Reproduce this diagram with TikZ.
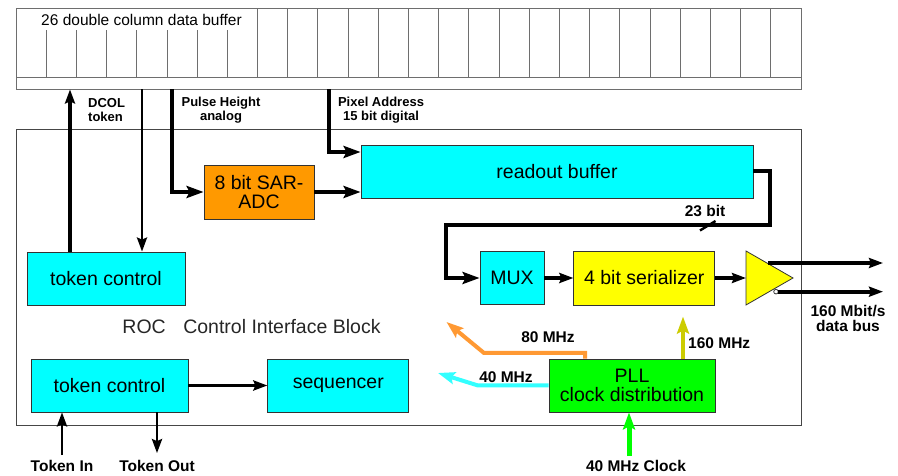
\documentclass[tikz,border=0pt]{standalone}
\usepackage{fontspec}
\setmainfont{Liberation Sans}
\usetikzlibrary{positioning,arrows.meta,calc}
\definecolor{boxLine}{RGB}{51,51,51}
\definecolor{frameLine}{RGB}{70,70,70}
\definecolor{cellLine}{RGB}{110,110,110}
\definecolor{rocCyan}{RGB}{0,255,255}
\definecolor{adcOrange}{RGB}{255,153,0}
\definecolor{serYellow}{RGB}{255,255,0}
\definecolor{pllGreen}{RGB}{0,255,0}
\definecolor{clkOrange}{RGB}{255,153,51}
\definecolor{clkCyan}{RGB}{51,255,255}
\definecolor{clkOlive}{RGB}{204,204,0}
\newcommand\boxfont{\fontsize{19.5}{19.5}\selectfont}
\newcommand\buffont{\fontsize{15.5}{17}\selectfont}
\newcommand\lblfont{\bfseries\fontsize{15.5}{15.5}\selectfont}
\newcommand\toplblfont{\bfseries\fontsize{13}{14.5}\selectfont}
\tikzset{
  blk/.style={rectangle, draw=boxLine, line width=0.8pt, inner sep=0pt,
              align=center, font=\boxfont},
  cyanblk/.style={blk, fill=rocCyan},
  cell/.style={draw=cellLine, line width=0.9pt},
  bus/.style={line width=4pt, -{Stealth[length=17pt,width=12pt,inset=3pt]}},
  sig/.style={line width=3.2pt, -{Stealth[length=14pt,width=10pt,inset=2pt]}},
  clkarr/.style={line width=4pt, -{Stealth[length=17pt,width=12pt,inset=3pt]}},
  lbl/.style={font=\lblfont, align=center, inner sep=0pt},
  toplbl/.style={font=\toplblfont, align=center, inner sep=0pt},
}

\begin{document}
\begin{tikzpicture}[x=1pt, y=1pt]
  \useasboundingbox (0,0) rectangle (898,476);
  % double column buffer
  \node[draw=cellLine, line width=0.9pt, minimum width=785pt, minimum height=81pt,
        inner sep=0pt] (colbuf) at (408.5,427.5) {};
  \draw[cell] (16,399) -- (801,399);
  \foreach \k in {1,...,7}
    \draw[cell] ({16+30.19*\k},399) -- ({16+30.19*\k},446);
  \foreach \k in {8,...,25}
    \draw[cell] ({16+30.19*\k},399) -- ({16+30.19*\k},468);
  \node[font=\buffont, inner sep=0pt] (buflbl) at (141.5,456) {26 double column data buffer};

  % ROC control interface block
  \node[draw=frameLine, line width=1pt, minimum width=785pt, minimum height=296pt,
        inner sep=0pt] (rocblk) at (408.5,198) {};
  \node[font=\boxfont, text=black!85, inner sep=0pt] (roclbl) at (251.5,149)
    {ROC\hspace{0.9em}Control Interface Block};

  \node[blk, fill=adcOrange, minimum width=110pt, minimum height=54pt] (adc) at (259,284) {8 bit SAR-\\ADC};
  \node[cyanblk, minimum width=392pt, minimum height=53pt] (rob) at (557,304.5) {readout buffer};
  \node[cyanblk, minimum width=158pt, minimum height=53pt] (tcup) at (106,197.5) {token control};
  \node[cyanblk, minimum width=157pt, minimum height=53pt] (tclow) at (109.5,90.5) {token control};
  \node[cyanblk, minimum width=141pt, minimum height=53pt, right=79pt of tclow] (seq) {sequencer};
  \node[cyanblk, minimum width=64pt, minimum height=53pt] (mux) at (512,198) {MUX};
  \node[blk, fill=serYellow, minimum width=141pt, minimum height=54pt, right=29pt of mux] (ser) {4 bit serializer};
  \node[blk, fill=pllGreen, minimum width=166pt, minimum height=53pt] (pll) at (632,90.5) {PLL\\clock distribution};

  % output driver
  \coordinate (drvtip) at (793,198);
  \draw[draw=boxLine, line width=0.8pt, fill=serYellow] (746,225) -- (drvtip) -- (746,171) -- cycle;
  \coordinate (outp) at (883,213);
  \coordinate (outn) at (883,184.3);

  % labels
  \node[toplbl, align=left, anchor=west] (dcollbl) at (88,366) {DCOL\\token};
  \node[toplbl] (phlbl) at (221,366) {Pulse Height\\analog};
  \node[toplbl] (palbl) at (381,366) {Pixel Address\\15 bit digital};
  \node[lbl] (bitlbl) at (705,265) {23 bit};
  \node[lbl] (buslbl) at (848,157.5) {160 Mbit/s\\data bus};
  \node[lbl] (f80lbl) at (548,139) {80 MHz};
  \node[lbl] (f40lbl) at (506,99) {40 MHz};
  \node[lbl, anchor=west] (f160lbl) at (688,133) {160 MHz};
  \node[lbl] (clklbl) at (636,10) {40 MHz Clock};
  \node[lbl] (tinlbl) at (62,10) {Token In};
  \node[lbl] (toutlbl) at (157,10) {Token Out};

  % data paths
  \draw[sig, line width=3.6pt] ([xshift=-36pt]tcup.north) -- ([xshift=-36pt]tcup.north |- colbuf.south);
  \draw[sig, line width=2.8pt] ([xshift=36pt]tcup.north |- colbuf.south) -- ([xshift=36pt]tcup.north);
  \draw[bus] (172,0 |- colbuf.south) |- (adc.west);
  \draw[bus] (329,0 |- colbuf.south) |- ([yshift=19.5pt]rob.west);
  \draw[bus] (adc.east) -- (adc.east -| rob.west);
  \draw[bus] (rob.east) -| (770,251) -| (446,0 |- mux.west) -- (mux.west);
  \draw[line width=2.4pt] (700,245.5) -- (715.5,255);
  \draw[sig] (mux.east) -- (ser.west);
  \draw[sig] (ser.east) -- (746,0 |- ser.east);
  \draw[sig, line width=3.8pt] (768,0 |- outp) -- (outp);
  \draw[draw=boxLine, line width=0.8pt, fill=white] (776,184.3) circle (2.3);
  \draw[sig, line width=3.8pt] (778.3,0 |- outn) -- (outn);

  % token chain
  \draw[sig] (tclow.east) -- (seq.west);
  \draw[sig, line width=2.8pt] ([yshift=5pt]tinlbl.north) -- (tinlbl.north |- tclow.south);
  \draw[sig, line width=2.8pt] (toutlbl.north |- tclow.south) -- ([yshift=7pt]toutlbl.north);

  % clocks
  \draw[clkarr, draw=pllGreen, line width=5pt] ([xshift=-7pt, yshift=4pt]clklbl.north) -- ([xshift=-3pt]pll.south);
  \draw[clkarr, draw=clkOlive] ([xshift=51pt]pll.north) -- ++(0,42);
  \draw[clkarr, draw=clkOrange] ([xshift=-47pt]pll.north) |- (484,123) -- (446.5,154);
  \draw[clkarr, draw=clkCyan] (pll.west) -- (478,0 |- pll.west) -- (438,103);
\end{tikzpicture}
\end{document}
